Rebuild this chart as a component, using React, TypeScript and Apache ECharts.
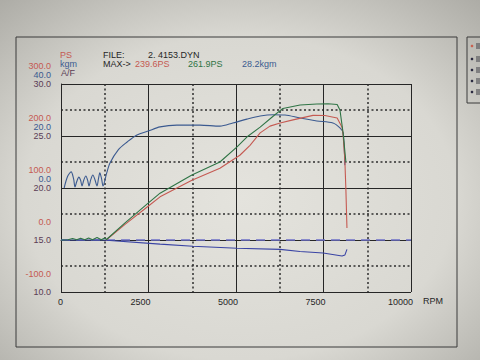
import React, { useEffect, useRef } from "react";
import * as echarts from "echarts";

// ---- data ----
const xTicks = [0, 2500, 5000, 7500, 10000];
const xTickLabels = ["0", "2500", "5000", "7500", "10000"];
const afTicks = [10, 15, 20, 25, 30];
const afTickLabels = ["10.0", "15.0", "20.0", "25.0", "30.0"];
const psTicks = [-100, 0, 100, 200, 300];
const psTickLabels = ["-100.0", "0.0", "100.0", "200.0", "300.0"];
const kgmTicks = [-40, -20, 0, 20, 40];
const kgmTickLabels = ["", "", "0.0", "20.0", "40.0"];

// [rpm, PS]
const psRed: [number, number][] = [
  [1290, 0], [1830, 30], [2490, 65], [2830, 83], [3740, 115], [4540, 138],
  [5110, 163], [5400, 182], [5690, 206], [5970, 219], [6260, 225], [6630, 231],
  [7200, 239.6], [7540, 239.4], [7890, 234.6], [8030, 217], [8060, 202],
  [8110, 154], [8140, 96], [8170, 23],
];
const psGreen: [number, number][] = [
  [0, 0], [200, 0.5], [330, 3], [450, 0.5], [560, 3.5], [680, 0.5], [790, 4],
  [900, 0.5], [1030, 5], [1150, 0.5], [1250, 4], [1300, 1], [1830, 33],
  [2490, 71], [2830, 90], [3740, 125], [4540, 150], [5030, 179], [5310, 198],
  [5690, 217], [6060, 238], [6340, 253], [6830, 259.6], [7310, 261.5],
  [7630, 261.9], [7890, 260.6], [7970, 250], [8060, 206], [8140, 150],
];
// [rpm, kgm]
const kgmBlue: [number, number][] = [
  [90, 0], [190, 4.5], [290, 6.2], [360, 3.5], [400, 0.4], [450, 2.5],
  [510, 4.2], [560, 3.0], [600, 0.8], [650, 3.0], [710, 4.6], [760, 3.0],
  [800, 0.8], [850, 3.2], [910, 5.0], [970, 3.2], [1030, 0.8], [1070, 3.5],
  [1110, 5.8], [1160, 3.5], [1200, 0.8], [1300, 5.5], [1400, 9.6],
  [1630, 14.6], [1890, 17.7], [2170, 20.4], [2490, 21.9], [2830, 23.5],
  [3310, 24.2], [3970, 24.2], [4540, 23.8], [4910, 25.0], [5310, 26.5],
  [5690, 27.7], [6060, 28.2], [6400, 28.1], [6830, 26.9], [7310, 25.8],
  [7770, 25.0], [7970, 23.1], [8060, 21.2], [8110, 8.8],
];
// [rpm, A/F]
const afBlue: [number, number][] = [
  [0, 15.0], [1200, 15.0], [2830, 14.6], [3770, 14.4], [5030, 14.2],
  [6260, 14.1], [6830, 13.9], [7490, 13.75], [8030, 13.46], [8110, 13.55],
  [8170, 14.1],
];
const afTarget: [number, number][] = [[0, 15.0], [10000, 15.0]];

const fileName = "2. 4153.DYN";
const maxRedText = "239.6PS";
const maxGreenText = "261.9PS";
const maxKgmText = "28.2kgm";

// ---- styles ----
const FONT = "Liberation Sans";
const RED = "#c55a52";
const GREEN = "#2f7445";
const BLUE = "#3b5a90";
const AFBLUE = "#3a44a4";
const DASH = "#6c6fc6";
const AFCOL = "#5a3c55";
const INK = "#262626";

function lab(list: number[], labels: string[]) {
  return (v: number) => {
    const i = list.indexOf(Math.round(v * 1000) / 1000);
    return i >= 0 ? labels[i] : "";
  };
}

export default function App() {
  const ref = useRef<HTMLDivElement>(null);
  useEffect(() => {
    const chart = echarts.init(ref.current!, null, { renderer: "svg" });
    const dotted = { type: [2, 2.5] as any, color: "#2e2e2e", width: 1.5 };
    const txt = (x: number, y: number, text: string, fill: string, extra: any = {}) => ({
      type: "text",
      x,
      y,
      style: { text, fill, font: `9px "${FONT}"`, textVerticalAlign: "middle", ...extra },
      z: 10,
    });
    chart.setOption({
      animation: false,
      graphic: [
        {
          type: "rect",
          shape: { x: 0, y: 0, width: 480, height: 360 },
          style: {
            fill: new echarts.graphic.RadialGradient(0.5, 0.55, 0.75, [
              { offset: 0, color: "#e4e3dd" },
              { offset: 0.6, color: "#d9d8d2" },
              { offset: 1, color: "#acaba5" },
            ]),
          },
          z: -100,
          silent: true,
        },
        {
          type: "rect",
          shape: { x: 16, y: 37, width: 441, height: 310 },
          style: { fill: "none", stroke: "#3a3a3a", lineWidth: 1 },
          z: -50,
        },
        {
          type: "rect",
          shape: { x: 467, y: 37, width: 20, height: 66 },
          style: { fill: "none", stroke: "#3a3a3a", lineWidth: 1 },
          z: -50,
        },
        ...[
          [46, "#c8604f"],
          [59, "#2a2a40"],
          [70, "#2a2a40"],
          [81, "#2a2a40"],
          [92, "#2a2a40"],
        ].map(([y, c]) => ({
          type: "circle",
          shape: { cx: 472, cy: y as number, r: 1.3 },
          style: { fill: c as string },
        })),
        ...[46, 59, 70, 81, 92].map((y) => ({
          type: "rect",
          shape: { x: 476, y: y - 3, width: 4, height: 6 },
          style: { fill: "#55555a", opacity: 0.6 },
        })),
        txt(60, 55, "PS", RED),
        txt(60, 64, "kgm", BLUE),
        txt(61, 73, "A/F", AFCOL),
        txt(103, 55, "FILE:", INK),
        txt(148, 55, fileName, INK),
        txt(103, 64, "MAX->", INK),
        txt(135, 64, maxRedText, RED),
        txt(188, 64, maxGreenText, GREEN),
        txt(242, 64, maxKgmText, BLUE),
        txt(423, 301, "RPM", INK),
      ],
      grid: { left: 61, top: 84, width: 350, height: 208, show: false },
      xAxis: {
        type: "value",
        min: 0,
        max: 10000,
        interval: 2500,
        axisLine: { show: true, lineStyle: { color: INK, width: 1 } },
        axisTick: { show: false },
        axisLabel: {
          color: INK,
          fontSize: 9,
          fontFamily: FONT,
          margin: 5,
          align: "right",
          padding: [0, -2, 0, 0],
          formatter: lab(xTicks, xTickLabels),
        },
        splitLine: { show: true, lineStyle: { color: INK, width: 1 } },
        minorTick: { show: false, splitNumber: 2 },
        minorSplitLine: { show: true, lineStyle: dotted },
      },
      yAxis: [
        {
          type: "value",
          min: 10,
          max: 30,
          interval: 5,
          position: "left",
          axisLine: { show: true, lineStyle: { color: INK, width: 1 } },
          axisTick: { show: false },
          axisLabel: {
            color: AFCOL,
            fontSize: 9,
            fontFamily: FONT,
            margin: 10,
            formatter: lab(afTicks, afTickLabels),
          },
          splitLine: {
            show: true,
            lineStyle: { color: [INK, "rgba(0,0,0,0)", INK, INK, INK], width: 1 },
          },
          minorTick: { show: false, splitNumber: 2 },
          minorSplitLine: { show: true, lineStyle: dotted },
        },
        {
          type: "value",
          min: -100,
          max: 300,
          interval: 100,
          position: "left",
          axisLine: { show: false },
          axisTick: { show: false },
          splitLine: { show: false },
          axisLabel: {
            color: RED,
            fontSize: 9,
            fontFamily: FONT,
            margin: 10,
            verticalAlign: "bottom",
            lineHeight: 36,
            formatter: lab(psTicks, psTickLabels),
          },
        },
        {
          type: "value",
          min: -40,
          max: 40,
          interval: 20,
          position: "left",
          axisLine: { show: false },
          axisTick: { show: false },
          splitLine: { show: false },
          axisLabel: {
            color: BLUE,
            fontSize: 9,
            fontFamily: FONT,
            margin: 10,
            verticalAlign: "bottom",
            lineHeight: 18,
            formatter: lab(kgmTicks, kgmTickLabels),
          },
        },
      ],
      series: [
        {
          name: "A/F target",
          type: "line",
          yAxisIndex: 0,
          data: afTarget,
          symbol: "none",
          lineStyle: { color: DASH, width: 1.4, type: [9, 6] },
          z: 1,
        },
        {
          name: "A/F",
          type: "line",
          yAxisIndex: 0,
          data: afBlue,
          symbol: "none",
          lineStyle: { color: AFBLUE, width: 1.1 },
          z: 2,
        },
        {
          name: "kgm",
          type: "line",
          yAxisIndex: 2,
          data: kgmBlue,
          symbol: "none",
          smooth: 0.3,
          lineStyle: { color: BLUE, width: 1.1 },
          z: 3,
        },
        {
          name: "PS",
          type: "line",
          yAxisIndex: 1,
          data: psRed,
          symbol: "none",
          lineStyle: { color: RED, width: 1.1 },
          z: 4,
        },
        {
          name: "PS2",
          type: "line",
          yAxisIndex: 1,
          data: psGreen,
          symbol: "none",
          lineStyle: { color: GREEN, width: 1.1 },
          z: 5,
        },
      ],
    });
    return () => chart.dispose();
  }, []);
  return (
    <div
      ref={ref}
      style={{ position: "absolute", left: 0, top: 0, width: 480, height: 360 }}
    />
  );
}
